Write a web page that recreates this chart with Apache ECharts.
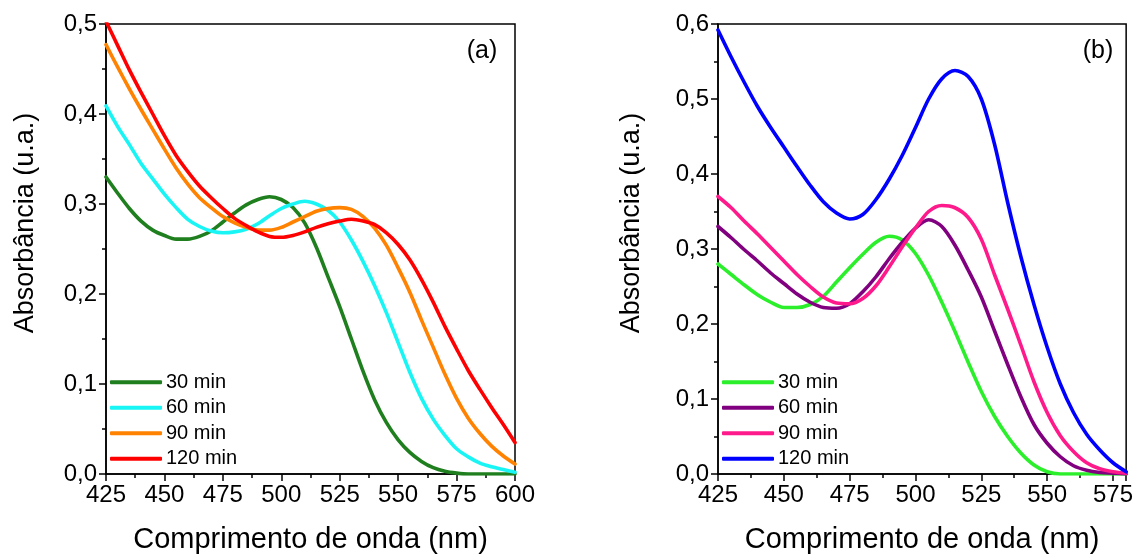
<!DOCTYPE html>
<html>
<head>
<meta charset="utf-8">
<script src="https://cdn.jsdelivr.net/npm/echarts@6/dist/echarts.min.js"></script>
<style>
html,body{margin:0;padding:0;background:#ffffff;}
#chart{width:1136px;height:559px;}
</style>
</head>
<body>
<div id="chart"></div>
<script>
// ---------- data ----------
const wavelengthA = [425,430,435,440,445,450,455,460,465,470,475,480,485,490,495,500,505,510,515,520,525,530,535,540,545,550,555,560,565,570,575,580,585,590,595,600];
const wavelengthB = [425,430,435,440,445,450,455,460,465,470,475,480,485,490,495,500,505,510,515,520,525,530,535,540,545,550,555,560,565,570,575,580];

const legendLabels = ['30 min','60 min','90 min','120 min'];
const xTickLabelsA = ['425','450','475','500','525','550','575','600'];
const xTickLabelsB = ['425','450','475','500','525','550','575'];
const yTickLabelsA = ['0,0','0,1','0,2','0,3','0,4','0,5'];
const yTickLabelsB = ['0,0','0,1','0,2','0,3','0,4','0,5','0,6'];
const xTitle = 'Comprimento de onda (nm)';
const yTitle = 'Absorbância (u.a.)';
const panelLabels = ['(a)','(b)'];

// panel (a)
const a30  = [.330,.312,.295,.281,.271,.265,.261,.261,.264,.270,.280,.290,.299,.305,.308,.305,.296,.279,.252,.219,.186,.150,.114,.082,.057,.038,.024,.014,.007,.003,.001,0,0,0,0,0];
const a60  = [.409,.386,.366,.345,.328,.311,.296,.283,.275,.270,.268,.269,.272,.278,.287,.295,.300,.303,.300,.293,.280,.260,.236,.209,.179,.146,.113,.084,.061,.043,.028,.019,.012,.008,.005,.002];
const a90  = [.477,.452,.428,.405,.383,.361,.340,.322,.307,.296,.286,.279,.274,.271,.271,.274,.280,.286,.292,.295,.296,.294,.286,.273,.254,.229,.202,.171,.141,.111,.084,.062,.045,.031,.020,.011];
const a120 = [.503,.476,.449,.424,.400,.376,.354,.336,.320,.307,.295,.284,.276,.269,.264,.263,.265,.269,.274,.278,.281,.283,.281,.277,.268,.255,.238,.216,.191,.164,.139,.115,.094,.074,.055,.035];

// panel (b)
const b30  = [.280,.266,.252,.239,.229,.222,.222,.226,.237,.256,.275,.293,.309,.317,.312,.294,.265,.229,.190,.149,.110,.077,.050,.028,.012,.003,0,0,0,0,0,0];
const b60  = [.330,.315,.299,.284,.268,.254,.240,.229,.222,.221,.227,.243,.263,.287,.309,.328,.339,.330,.305,.272,.236,.191,.146,.103,.066,.041,.023,.011,.005,.002,.001,0];
const b90  = [.370,.355,.337,.320,.302,.284,.266,.250,.236,.228,.227,.234,.251,.276,.303,.328,.350,.358,.355,.342,.313,.266,.220,.172,.123,.082,.051,.030,.015,.007,.003,.001];
const b120 = [.592,.556,.522,.490,.462,.436,.410,.385,.363,.348,.340,.346,.366,.393,.425,.462,.500,.527,.538,.530,.500,.440,.362,.290,.226,.169,.120,.082,.053,.032,.015,.003];

const colorsA = ['#1f7f1f','#19f5f5','#ff8200','#ff0000'];
const colorsB = ['#2bef2b','#800080','#ff1a8c','#0000ff'];

// ---------- build ----------
const FONT = 'Liberation Sans, Arial, sans-serif';
const pairs = (xs, ys) => xs.map((x, i) => [x, ys[i]]);

function xAxisOf(gridIndex, min, max, labels) {
  return {
    type: 'value', gridIndex, min, max, interval: 25,
    name: xTitle, nameLocation: 'middle', nameGap: 51,
    nameTextStyle: {fontFamily: FONT, fontSize: 29, color: '#000'},
    axisLine: {show: true, onZero: false, lineStyle: {color: '#000', width: 1.5}},
    axisTick: {show: true, inside: false, length: 7, lineStyle: {color: '#000', width: 1.5}},
    minorTick: {show: true, splitNumber: 2, length: 4, lineStyle: {color: '#000', width: 1.5}},
    splitLine: {show: false},
    axisLabel: {
      fontFamily: FONT, fontSize: 24, color: '#000', margin: 9,
      formatter: v => { const i = Math.round((v - 425) / 25); return labels[i] !== undefined && Math.abs(v - (425 + 25 * i)) < 1e-6 ? labels[i] : ''; }
    }
  };
}
function yAxisOf(gridIndex, max, labels) {
  return {
    type: 'value', gridIndex, min: 0, max, interval: 0.1,
    axisLine: {show: true, onZero: false, lineStyle: {color: '#000', width: 1.5}},
    axisTick: {show: true, inside: false, length: 7, lineStyle: {color: '#000', width: 1.5}},
    minorTick: {show: true, splitNumber: 2, length: 4, lineStyle: {color: '#000', width: 1.5}},
    splitLine: {show: false},
    axisLabel: {
      fontFamily: FONT, fontSize: 24, color: '#000', margin: 9,
      formatter: v => labels[Math.round(v / 0.1)]
    }
  };
}
function lineSeries(id, xIdx, xs, ys, color) {
  return {
    name: id, type: 'line', xAxisIndex: xIdx, yAxisIndex: xIdx,
    data: pairs(xs, ys), showSymbol: false, symbol: 'none',
    smooth: 0.3, clip: true,
    lineStyle: {color, width: 3.6, cap: 'round', join: 'round'},
    itemStyle: {color}
  };
}
function legendOf(left, ids) {
  return {
    orient: 'vertical', left, top: 372, itemWidth: 52, itemHeight: 4, itemGap: 5,
    icon: 'roundRect', selectedMode: false, padding: 0,
    data: ids,
    formatter: n => legendLabels[+n.slice(1)],
    textStyle: {fontFamily: FONT, fontSize: 20, color: '#000', lineHeight: 20.5, padding: [0, 0, 0, -1]}
  };
}

const seriesA = [a30, a60, a90, a120];
const seriesB = [b30, b60, b90, b120];
const idsA = seriesA.map((_, i) => 'a' + i);
const idsB = seriesB.map((_, i) => 'b' + i);

const option = {
  animation: false,
  backgroundColor: '#ffffff',
  grid: [
    {left: 106, top: 24, width: 409, height: 453.5, show: true, borderColor: '#000', borderWidth: 1.5, backgroundColor: 'transparent', containLabel: false},
    {left: 718, top: 24, width: 409, height: 453.5, show: true, borderColor: '#000', borderWidth: 1.5, backgroundColor: 'transparent', containLabel: false}
  ],
  xAxis: [xAxisOf(0, 425, 600, xTickLabelsA), xAxisOf(1, 425, 580, xTickLabelsB)],
  yAxis: [yAxisOf(0, 0.5, yTickLabelsA), yAxisOf(1, 0.6, yTickLabelsB)],
  legend: [legendOf(110, idsA), legendOf(722, idsB)],
  series: [
    ...seriesA.map((ys, i) => lineSeries(idsA[i], 0, wavelengthA, ys, colorsA[i])),
    ...seriesB.map((ys, i) => lineSeries(idsB[i], 1, wavelengthB, ys, colorsB[i]))
  ],
  graphic: [
    {type: 'text', x: 26, y: 223, rotation: Math.PI / 2,
     style: {text: yTitle, font: '27px ' + FONT, fill: '#000', textAlign: 'center', textVerticalAlign: 'middle'}},
    {type: 'text', x: 632, y: 223, rotation: Math.PI / 2,
     style: {text: yTitle, font: '27px ' + FONT, fill: '#000', textAlign: 'center', textVerticalAlign: 'middle'}},
    {type: 'text', x: 482, y: 51,
     style: {text: panelLabels[0], font: '25px ' + FONT, fill: '#000', textAlign: 'center', textVerticalAlign: 'middle'}},
    {type: 'text', x: 1098, y: 51,
     style: {text: panelLabels[1], font: '25px ' + FONT, fill: '#000', textAlign: 'center', textVerticalAlign: 'middle'}}
  ]
};

const chart = echarts.init(document.getElementById('chart'), null, {renderer: 'canvas'});
chart.setOption(option);
</script>
</body>
</html>
